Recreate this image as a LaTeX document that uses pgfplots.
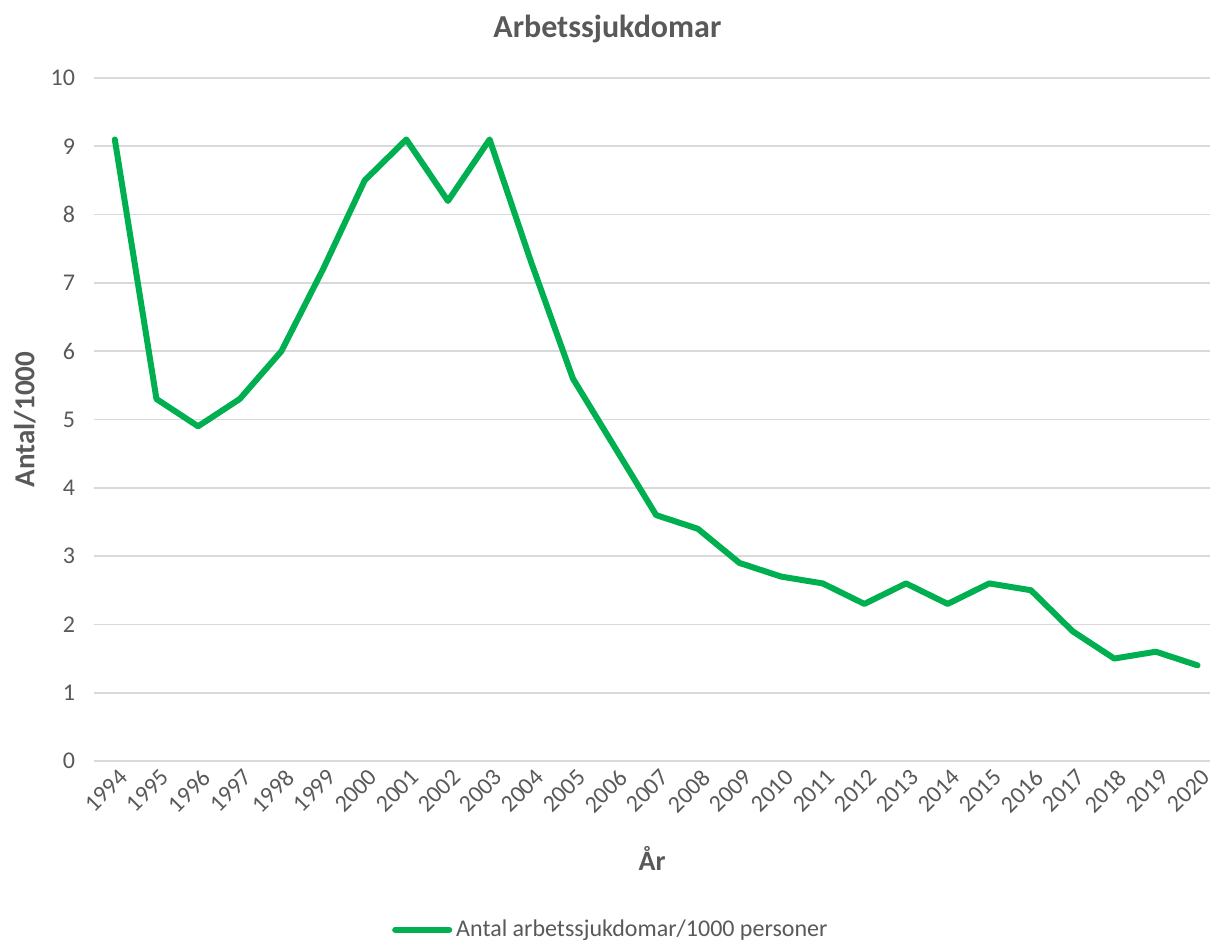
\documentclass[border=0pt]{standalone}
\usepackage{pgfplots}
\pgfplotsset{compat=1.18}
\usepackage{fontspec}
\setmainfont{Carlito}
\definecolor{linegreen}{HTML}{00B050}
\definecolor{txtgray}{HTML}{595959}
\definecolor{gridgray}{HTML}{D9D9D9}
\begin{document}
\begin{tikzpicture}
\useasboundingbox (0,0) rectangle (605pt,471pt);
\begin{axis}[
at={(47pt,90.5pt)},
anchor=south west,
scale only axis,
width=558pt,
height=341.5pt,
xmin=1993.5, xmax=2020.3,
ymin=0, ymax=10,
axis line style={draw=none},
tick style={draw=none},
ymajorgrids,
grid style={gridgray, line width=0.8pt},
xtick={1994,...,2020},
ytick={0,...,10},
/pgf/number format/assume math mode=true,
/pgf/number format/1000 sep={},
ticklabel style={font=\fontsize{12}{14}\selectfont, text=txtgray},
xticklabel style={rotate=45, anchor=north east, xshift=2pt, yshift=0pt},
yticklabel style={xshift=-6pt},
title={\textbf{Arbetssjukdomar}},
title style={at={(rel axis cs:0.46,1.073)}, anchor=center, yshift=-6.5pt, font=\fontsize{16}{18}\selectfont, text=txtgray},
xlabel={\textbf{År}},
xlabel style={at={(rel axis cs:0.5,-0.142)}, anchor=center, font=\fontsize{14}{16}\selectfont, text=txtgray},
ylabel={\textbf{Antal/1000}},
ylabel style={at={(rel axis cs:-0.062,0.5)}, anchor=center, font=\fontsize{14.5}{16}\selectfont, text=txtgray},
legend style={at={(rel axis cs:0.464,-0.247)}, anchor=center, draw=none, fill=none, font=\fontsize{12}{14}\selectfont, text=txtgray},
legend image code/.code={\draw[#1, line cap=round] (0cm,0cm) -- (0.95cm,0cm);},
]
\addplot[linegreen, line width=3pt, line join=round, line cap=round, mark=none] coordinates {
(1994,9.1) (1995,5.3) (1996,4.9) (1997,5.3) (1998,6.0) (1999,7.2)
(2000,8.5) (2001,9.1) (2002,8.2) (2003,9.1) (2004,7.3) (2005,5.6)
(2006,4.6) (2007,3.6) (2008,3.4) (2009,2.9) (2010,2.7) (2011,2.6)
(2012,2.3) (2013,2.6) (2014,2.3) (2015,2.6) (2016,2.5) (2017,1.9)
(2018,1.5) (2019,1.6) (2020,1.4)};
\addlegendentry{Antal arbetssjukdomar/1000 personer}
\end{axis}
\end{tikzpicture}
\end{document}
